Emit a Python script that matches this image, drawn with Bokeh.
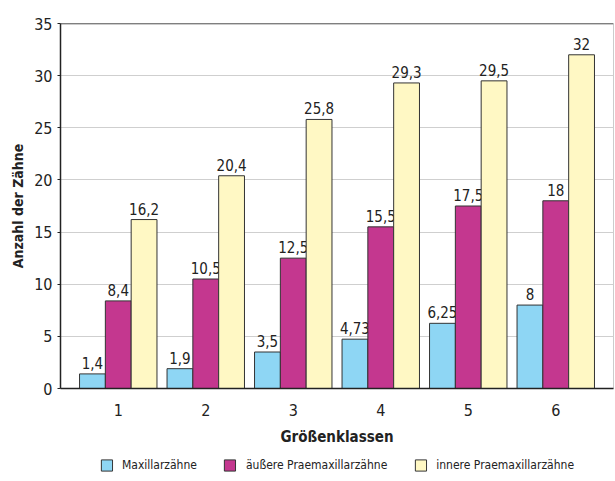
from bokeh.plotting import figure
from bokeh.layouts import column
from bokeh.models import ColumnDataSource, FixedTicker, Legend, LegendItem, Span
from bokeh.core.properties import value
from bokeh.embed import file_html
from bokeh.resources import INLINE

categories = [1, 2, 3, 4, 5, 6]
series_names = ["Maxillarzähne", "äußere Praemaxillarzähne", "innere Praemaxillarzähne"]
maxillar = [1.4, 1.9, 3.5, 4.73, 6.25, 8]
aeussere = [8.4, 10.5, 12.5, 15.5, 17.5, 18]
innere = [16.2, 20.4, 25.8, 29.3, 29.5, 32]
y_ticks = [0, 5, 10, 15, 20, 25, 30, 35]

colors = ["#8ED6F4", "#C4378F", "#FFF8C4"]
FONT = "DejaVu Sans Condensed, Roboto Condensed, Roboto, sans-serif"
TXT = "#222222"

p = figure(width=615, height=448, output_backend="svg", toolbar_location=None,
           x_range=(0.34, 6.66), y_range=(0, 35),
           min_border_left=60, min_border_right=2, min_border_top=23, min_border_bottom=52)

bw = 0.295
offsets = [-bw, 0, bw]
for name, vals, col, off in zip(series_names, [maxillar, aeussere, innere], colors, offsets):
    src = ColumnDataSource(dict(
        x=[c + off for c in categories],
        top=vals,
        lab=[f"{v:g}".replace(".", ",") for v in vals],
    ))
    p.vbar(x="x", top="top", width=bw, source=src, fill_color=col,
           line_color="#333333", line_width=1)
    p.text(x="x", y="top", text="lab", source=src, text_align="center",
           text_baseline="bottom", y_offset=-5, text_font=value(FONT),
           text_font_size="15px", text_color=TXT)

p.add_layout(Span(location=35, dimension="width", line_color="#333333", line_width=1.5))

p.outline_line_color = "#cccccc"
p.xgrid.grid_line_color = None
p.ygrid.grid_line_color = "#cfcfcf"
p.ygrid.ticker = FixedTicker(ticks=y_ticks)

p.yaxis.ticker = FixedTicker(ticks=y_ticks)
p.yaxis.minor_tick_line_color = None
p.yaxis.major_tick_in = 0
p.yaxis.major_tick_out = 3
p.yaxis.major_label_standoff = 5
p.yaxis.axis_line_color = TXT
p.yaxis.axis_line_width = 1.5
p.yaxis.major_tick_line_color = TXT
p.yaxis.major_label_text_font = FONT
p.yaxis.major_label_text_font_size = "16px"
p.yaxis.major_label_text_color = TXT
p.yaxis.axis_label = "Anzahl der Zähne"
p.yaxis.axis_label_text_font = FONT
p.yaxis.axis_label_text_font_size = "14px"
p.yaxis.axis_label_text_font_style = "bold"
p.yaxis.axis_label_text_color = TXT
p.yaxis.axis_label_standoff = 5

p.xaxis.ticker = FixedTicker(ticks=categories)
p.xaxis.minor_tick_line_color = None
p.xaxis.major_tick_line_color = None
p.xaxis.major_label_standoff = 9
p.xaxis.axis_line_color = TXT
p.xaxis.axis_line_width = 1.5
p.xaxis.major_label_text_font = FONT
p.xaxis.major_label_text_font_size = "16px"
p.xaxis.major_label_text_color = TXT
p.xaxis.axis_label = "Größenklassen"
p.xaxis.axis_label_text_font = FONT
p.xaxis.axis_label_text_font_size = "15px"
p.xaxis.axis_label_text_font_style = "bold"
p.xaxis.axis_label_text_color = TXT
p.xaxis.axis_label_standoff = 9

# legend strip
q = figure(width=615, height=33, output_backend="svg", toolbar_location=None,
           x_range=(0, 1), y_range=(10, 11), min_border=0)
q.axis.visible = False
q.grid.grid_line_color = None
q.outline_line_color = None
items = []
for name, col in zip(series_names, colors):
    r = q.vbar(x=[0.5], top=[0], bottom=[-1], width=0.1, fill_color=col,
               line_color="#333333", line_width=1)
    items.append(LegendItem(label=name, renderers=[r]))
legend = Legend(items=items, orientation="horizontal", location="center",
                glyph_width=14, glyph_height=14, label_standoff=9, spacing=26,
                padding=0, margin=0, border_line_color=None, background_fill_alpha=0,
                label_text_font=FONT, label_text_font_size="12px", label_text_color=TXT)
q.add_layout(legend, "center")

layout = column(p, q, spacing=0)
open("out.html", "w").write(file_html(layout, INLINE))
